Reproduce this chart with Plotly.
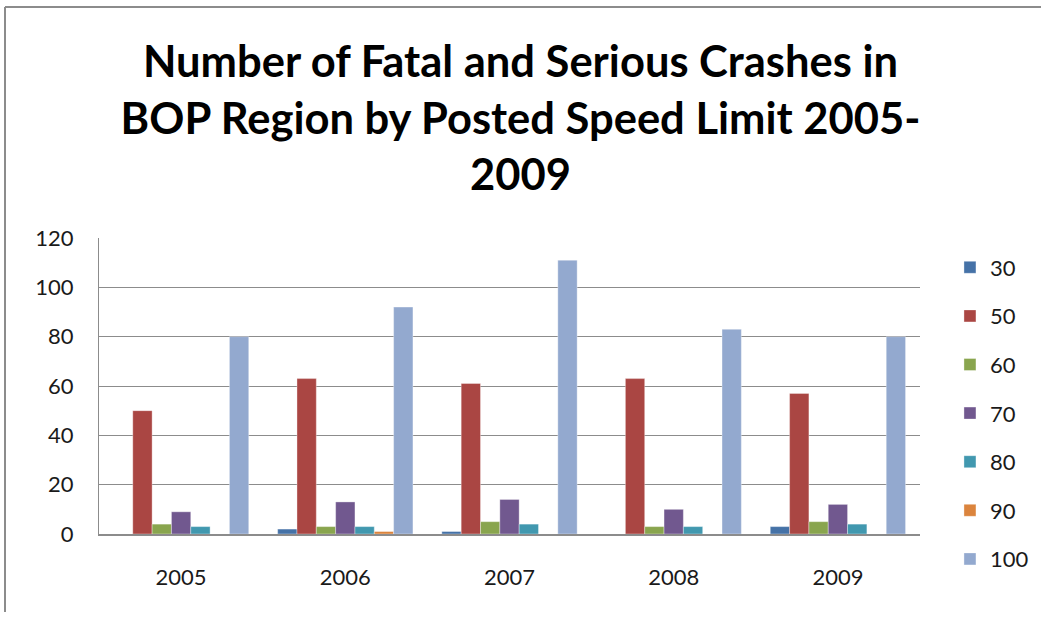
import plotly.graph_objects as go

years = ["2005", "2006", "2007", "2008", "2009"]
speed_limits = ["30", "50", "60", "70", "80", "90", "100"]
v30 = [0, 2, 1, 0, 3]
v50 = [50, 63, 61, 63, 57]
v60 = [4, 3, 5, 3, 5]
v70 = [9, 13, 14, 10, 12]
v80 = [3, 3, 4, 3, 4]
v90 = [0, 1, 0, 0, 0]
v100 = [80, 92, 111, 83, 80]
series = [v30, v50, v60, v70, v80, v90, v100]
colors = ["#4572A7", "#AA4643", "#89A54E", "#71588F", "#4198AF", "#DB843D", "#93A9CF"]

font_family = "Lato, Open Sans, sans-serif"

fig = go.Figure()
for name, vals, col in zip(speed_limits, series, colors):
    fig.add_trace(go.Bar(
        x=years, y=vals, name=name, legendgroup=name,
        marker=dict(color=col, line=dict(color="rgba(255,255,255,0.35)", width=1)),
    ))

fig.update_layout(
    width=1041, height=617,
    paper_bgcolor="white", plot_bgcolor="white",
    margin=dict(l=99, r=121, t=238, b=83, autoexpand=False),
    barmode="group", bargap=0.176, bargroupgap=0,
    title=dict(
        text="Number of Fatal and Serious Crashes in<br>BOP Region by Posted Speed Limit 2005-<br>2009",
        x=0.5, xref="container", xanchor="center",
        y=0.875, yref="container", yanchor="top",
        font=dict(family=font_family, size=43.5, color="black", weight="bold"),
    ),
    font=dict(family=font_family, size=22, color="#1a1a1a"),
    legend=dict(
        x=1.0365, xanchor="left", xref="paper",
        y=1 - 413.5 / 617, yanchor="middle", yref="container",
        font=dict(size=22, color="#1a1a1a"),
        tracegroupgap=17, itemwidth=30, bgcolor="rgba(0,0,0,0)",
        maxheight=500,
    ),
    showlegend=True,
)
fig.update_xaxes(
    showline=True, linecolor="#8c8c8c", linewidth=2,
    showgrid=False, ticks="", ticklabelstandoff=23,
)
fig.update_yaxes(
    range=[0, 120], dtick=20, showline=True, linecolor="#8c8c8c", linewidth=1,
    showgrid=True, gridcolor="#8c8c8c", gridwidth=1, zeroline=False,
    ticks="", ticklabelstandoff=20,
)

# outer chart frame (top and left edges visible)
fig.add_shape(type="line", xref="paper", yref="paper",
              x0=(5 - 99) / 821, x1=(1041 - 99) / 821, y0=(534 - 7) / 296, y1=(534 - 7) / 296,
              line=dict(color="#8c8c8c", width=2))
fig.add_shape(type="line", xref="paper", yref="paper",
              x0=(5 - 99) / 821, x1=(5 - 99) / 821, y0=(534 - 7) / 296, y1=(534 - 612) / 296,
              line=dict(color="#8c8c8c", width=2))

fig.write_html("out.html", config={"displayModeBar": False},
               post_script="document.body.style.margin='0';")
